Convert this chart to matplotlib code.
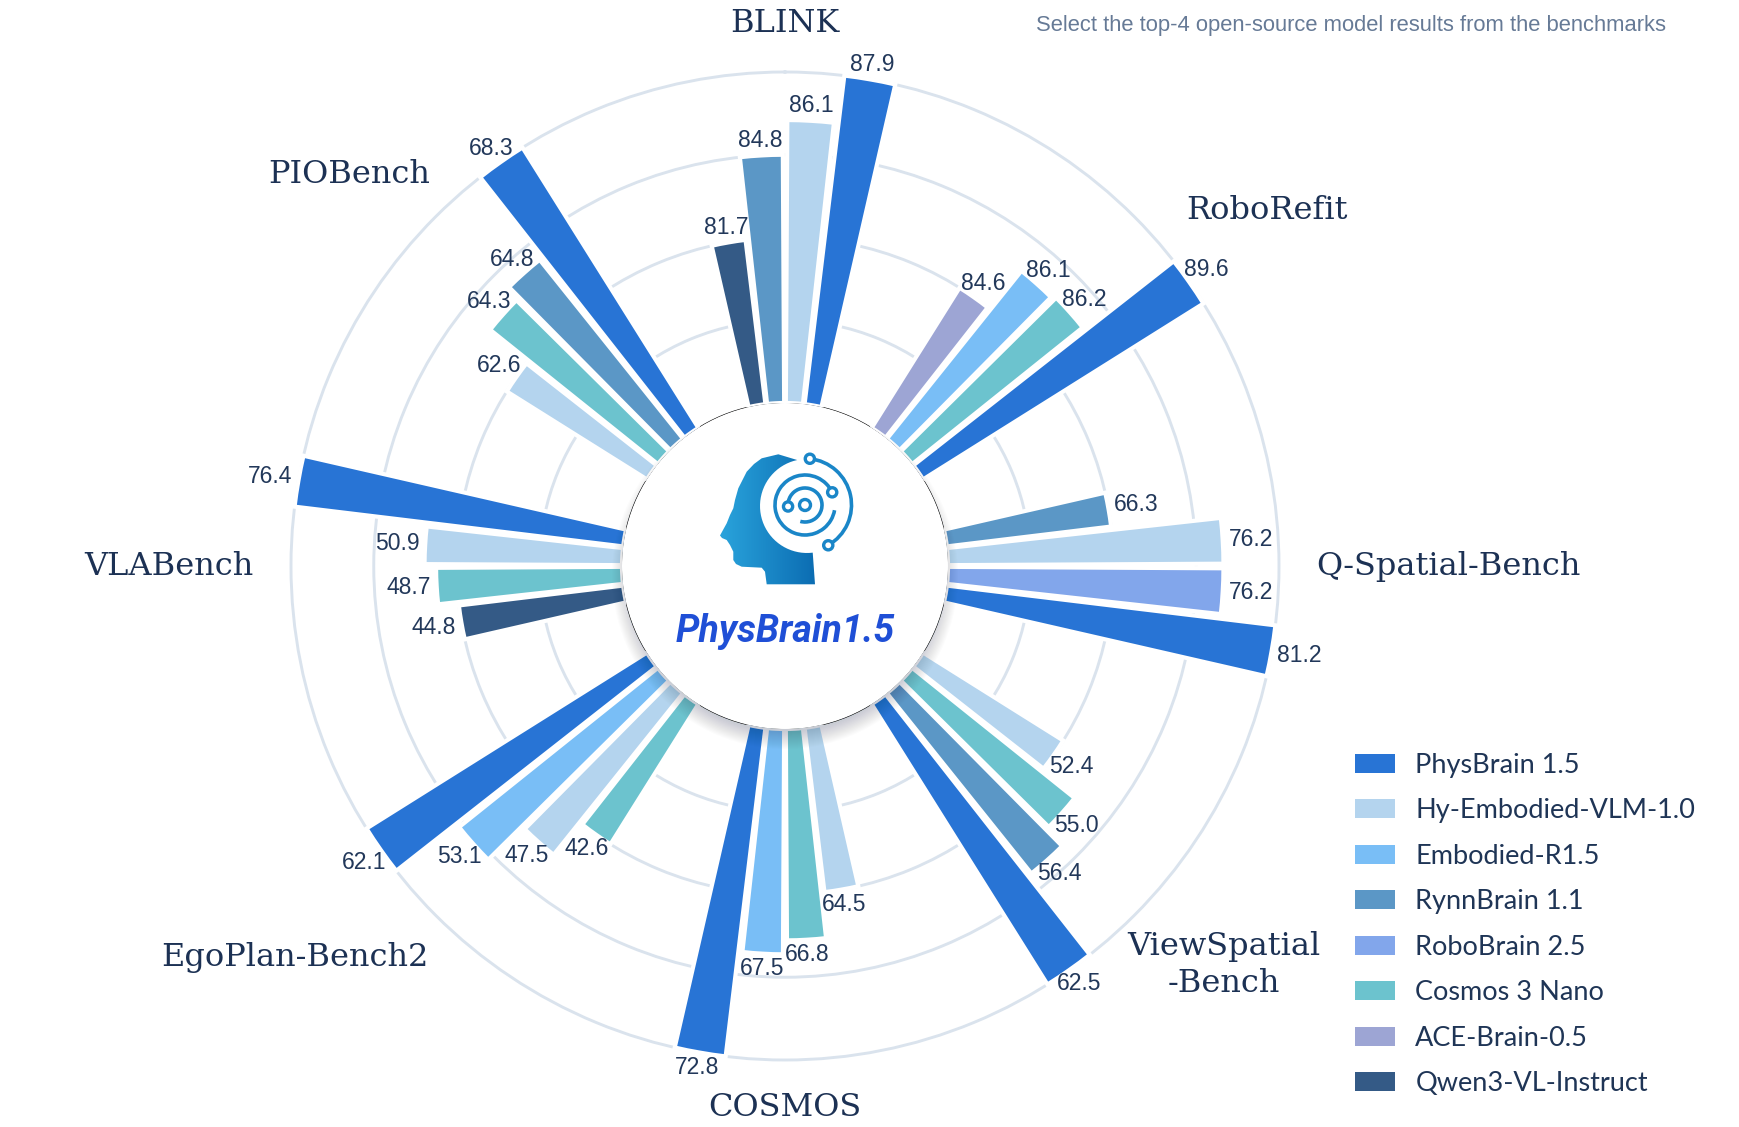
import numpy as np
import matplotlib.pyplot as plt
from matplotlib.patches import Circle, Polygon, Arc, Patch
from matplotlib.colors import LinearSegmentedColormap

# ---- data ----
benchmarks = ["BLINK", "RoboRefit", "Q-Spatial-Bench", "ViewSpatial\n-Bench",
              "COSMOS", "EgoPlan-Bench2", "VLABench", "PIOBench"]

models = ["PhysBrain 1.5", "Hy-Embodied-VLM-1.0", "Embodied-R1.5", "RynnBrain 1.1",
          "RoboBrain 2.5", "Cosmos 3 Nano", "ACE-Brain-0.5", "Qwen3-VL-Instruct"]
model_colors = ["#2874d5", "#b4d4ee", "#79bef6", "#5b97c6",
                "#82a6eb", "#6cc3ce", "#9da5d4", "#345a86"]

# top-4 open-source models per benchmark, listed clockwise
group_models = [
    ["Qwen3-VL-Instruct", "RynnBrain 1.1", "Hy-Embodied-VLM-1.0", "PhysBrain 1.5"],
    ["ACE-Brain-0.5", "Embodied-R1.5", "Cosmos 3 Nano", "PhysBrain 1.5"],
    ["RynnBrain 1.1", "Hy-Embodied-VLM-1.0", "RoboBrain 2.5", "PhysBrain 1.5"],
    ["Hy-Embodied-VLM-1.0", "Cosmos 3 Nano", "RynnBrain 1.1", "PhysBrain 1.5"],
    ["Hy-Embodied-VLM-1.0", "Cosmos 3 Nano", "Embodied-R1.5", "PhysBrain 1.5"],
    ["Cosmos 3 Nano", "Hy-Embodied-VLM-1.0", "Embodied-R1.5", "PhysBrain 1.5"],
    ["Qwen3-VL-Instruct", "Cosmos 3 Nano", "Hy-Embodied-VLM-1.0", "PhysBrain 1.5"],
    ["Hy-Embodied-VLM-1.0", "Cosmos 3 Nano", "RynnBrain 1.1", "PhysBrain 1.5"],
]
group_scores = [
    [81.7, 84.8, 86.1, 87.9],
    [84.6, 86.1, 86.2, 89.6],
    [66.3, 76.2, 76.2, 81.2],
    [52.4, 55.0, 56.4, 62.5],
    [64.5, 66.8, 67.5, 72.8],
    [42.6, 47.5, 53.1, 62.1],
    [44.8, 48.7, 50.9, 76.4],
    [62.6, 64.3, 64.8, 68.3],
]

note = "Select the top-4 open-source model results from the benchmarks"

# ---- layout (pixels) ----
W, H, DPI = 1740, 1127, 100
CX, CY = 785, 566          # chart centre
R_IN = 163                 # radius of the white centre disk
PXU = 3.31                 # pixels per radial unit
RMAX = 104
R0 = -R_IN / PXU
RAD = (RMAX - R0) * PXU

navy = "#1c3154"
label_navy = "#22385a"

fig = plt.figure(figsize=(W / DPI, H / DPI), dpi=DPI)
fig.patch.set_facecolor("white")

ax = fig.add_axes([(CX - RAD) / W, (H - CY - RAD) / H, 2 * RAD / W, 2 * RAD / H],
                  projection="polar")
ax.set_theta_zero_location("N")
ax.set_theta_direction(-1)
ax.set_rorigin(R0)
ax.set_ylim(0, RMAX)
ax.set_yticks([25, 50, 75, 100])
ax.set_yticklabels([])
ax.set_xticks([])
ax.grid(axis="y", color="#dae3ed", linewidth=2.1)
ax.set_axisbelow(True)
ax.spines["polar"].set_visible(False)
ax.set_facecolor("none")

step = np.deg2rad(6.6)
bar_w = np.deg2rad(6.0)
pad = 7
half_w, half_h = 21, 8

for g in range(len(benchmarks)):
    vals = np.array(group_scores[g])
    lo, hi = vals.min(), vals.max()
    heights = 50 + 50 * (vals - lo) / (hi - lo)
    thetas = np.deg2rad(45 * g) + (np.arange(len(vals)) - 1.5) * step
    cols = [model_colors[models.index(m)] for m in group_models[g]]
    ax.bar(thetas, heights, width=bar_w, bottom=0, color=cols,
           edgecolor="white", linewidth=3, zorder=3)
    for t, hgt, v in zip(thetas, heights, vals):
        phi = np.pi / 2 - t
        c, s = np.cos(phi), np.sin(phi)
        d = pad + min(half_w / max(abs(c), 1e-6), half_h / max(abs(s), 1e-6))
        ax.annotate(f"{v:.1f}", xy=(t, hgt), xytext=(d * c * 72 / DPI, d * s * 72 / DPI),
                    textcoords="offset points", ha="center", va="center",
                    fontsize=16.5, color=label_navy, family="Liberation Sans",
                    zorder=6, annotation_clip=False)

# benchmark names: (angle, radius px, ha)
name_pos = [(0, 543, "center"), (48.5, 536, "left"), (90, 531, "left"),
            (139.4, 526, "left"), (180, 542, "center"), (222.3, 529, "right"),
            (270, 531, "right"), (317.8, 529, "right")]
for name, (ang, rp, ha) in zip(benchmarks, name_pos):
    ax.text(np.deg2rad(ang), (rp - R_IN) / PXU, name, ha=ha, va="center",
            multialignment="center", linespacing=1.25,
            fontsize=23, color=navy, family="DejaVu Serif", clip_on=False)

# ---- centre disk with logo ----
L = 200
lax = fig.add_axes([(CX - L) / W, (H - CY - L) / H, 2 * L / W, 2 * L / H])
lax.set_xlim(-L, L)
lax.set_ylim(-L, L)
lax.axis("off")
lax.set_zorder(5)
for k in range(18):
    lax.add_patch(Circle((0, -10), R_IN + 10 - k, color="#1a2a40", alpha=0.013, lw=0))
lax.add_patch(Circle((0, 0), R_IN, facecolor="white", edgecolor="none"))

head = [(-18.3, -18.3), (-20, -5.7), (-23.3, -1.7), (-43.3, -0.7), (-49, 2),
        (-51.7, 6), (-51.7, 14.3), (-55, 21), (-58.3, 26), (-63, 28), (-65, 30.5),
        (-62, 36), (-58.3, 42.7), (-55, 51), (-51.7, 57.7), (-50, 66),
        (-46.7, 77.7), (-42, 87), (-38.3, 94.3), (-31, 102), (-23.3, 107.7),
        (-6.7, 111.7)]
cut_c = (22, 60)
for a in np.linspace(102, 277, 40):
    head.append((cut_c[0] + 47 * np.cos(np.deg2rad(a)), cut_c[1] + 47 * np.sin(np.deg2rad(a))))
head += [(30, -18.3)]
head_patch = Polygon(head, closed=True, facecolor="none", edgecolor="none")
lax.add_patch(head_patch)
grad = np.linspace(0, 1, 100).reshape(1, -1)
hcmap = LinearSegmentedColormap.from_list("head", ["#2aa4dc", "#0b6cb2"])
im = lax.imshow(grad, extent=(-66, 32, -19, 113), cmap=hcmap, aspect="auto", zorder=2)
im.set_clip_path(head_patch)

ring = "#1a86c8"
cc = (20, 61)
lax.add_patch(Arc(cc, 93, 93, theta1=-60, theta2=84, color=ring, lw=2.6, zorder=3))
lax.add_patch(Arc(cc, 60, 60, theta1=25, theta2=350, color=ring, lw=2.6, zorder=3))
lax.add_patch(Arc(cc, 34, 34, theta1=-106, theta2=185, color=ring, lw=2.6, zorder=3))
for a, r in [(84, 46.5), (-60, 46.5), (25, 30), (185, 17)]:
    p = (cc[0] + r * np.cos(np.deg2rad(a)), cc[1] + r * np.sin(np.deg2rad(a)))
    lax.add_patch(Circle(p, 4.6, facecolor="white", edgecolor=ring, lw=2.4, zorder=4))
lax.add_patch(Circle(cc, 5.5, facecolor="white", edgecolor=ring, lw=2.4, zorder=4))

lax.text(0, -76, "PhysBrain1.5", ha="center", va="baseline", fontsize=27,
         fontweight="bold", fontstyle="italic", family="Roboto", color="#1f4fd6")

# ---- legend and note ----
handles = [Patch(facecolor=c, edgecolor="none", label=m) for m, c in zip(models, model_colors)]
fig.legend(handles=handles, loc="upper left", bbox_to_anchor=(1355 / W, 1 - 753 / H),
           frameon=False, prop={"family": "Lato", "size": 19.5}, labelcolor="#1f3556",
           handlelength=1.48, handleheight=0.70, handletextpad=0.75,
           labelspacing=0.755, borderpad=0, borderaxespad=0)

fig.text(1036 / W, 1 - 31 / H, note, ha="left", va="baseline", fontsize=15.8,
         color="#667a96", family="Liberation Sans")

fig.savefig("out.png", dpi=DPI, facecolor="white")
